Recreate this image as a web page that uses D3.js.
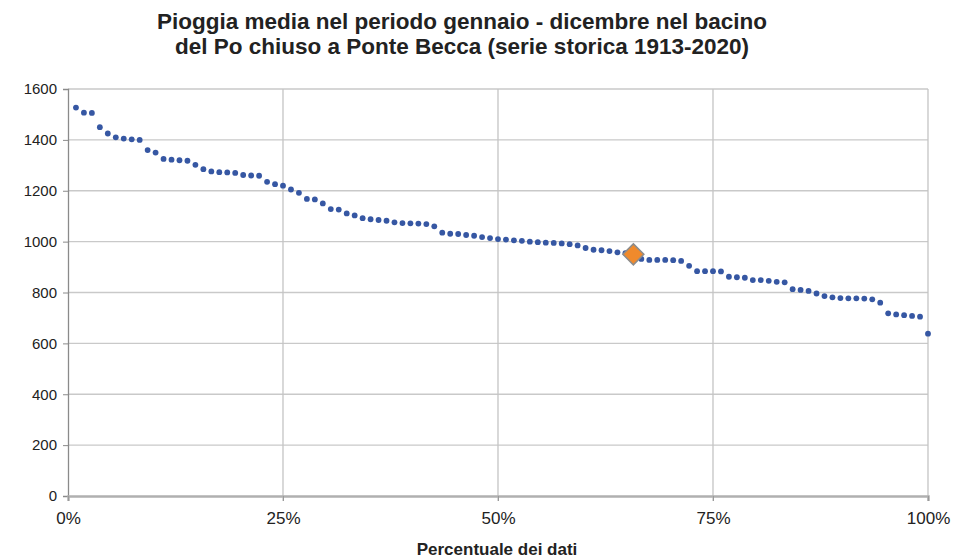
<!DOCTYPE html>
<html lang="it">
<head>
<meta charset="utf-8">
<title>Pioggia media Po a Ponte Becca</title>
<script src="https://d3js.org/d3.v7.min.js"></script>
<style>
  body { margin: 0; background: #fff; font-family: "Liberation Sans", Arial, sans-serif; }
  .tick text { font-family: "Liberation Sans", Arial, sans-serif; }
</style>
</head>
<body>
<div id="chart"></div>
<script>
// pioggia media annua (mm) ordinata in modo decrescente, 108 anni 1913-2020
var rainfall = [
  1527, 1507, 1506, 1450, 1425, 1410, 1405, 1402, 1400, 1360,
  1350, 1325, 1322, 1320, 1318, 1302, 1285, 1276, 1273, 1272,
  1270, 1262, 1260, 1259, 1235, 1226, 1220, 1205, 1192, 1168,
  1166, 1150, 1128, 1126, 1111, 1103, 1092, 1088, 1085, 1082,
  1076, 1073, 1072, 1071, 1069, 1060, 1035, 1031, 1030, 1026,
  1023, 1018, 1014, 1010, 1008, 1005, 1003, 1000, 998, 996,
  995, 993, 990, 985, 975, 968, 966, 963, 958, 955,
  950, 932, 928, 928, 928, 927, 924, 905, 884, 884,
  884, 883, 862, 860, 858, 849, 849, 846, 842, 840,
  813, 810, 806, 796, 786, 781, 778, 777, 777, 776,
  773, 760, 718, 714, 711, 708, 705, 638
];
// anno evidenziato (posizione nella serie ordinata)
var highlightRank = 71;
var highlightValue = 950;

var yTicks = [0, 200, 400, 600, 800, 1000, 1200, 1400, 1600];
var xTicks = [0, 0.25, 0.5, 0.75, 1];
var titleLines = [
  "Pioggia media nel periodo gennaio - dicembre nel bacino",
  "del Po chiuso a Ponte Becca (serie storica 1913-2020)"
];
var xTitle = "Percentuale dei dati";

var w = 953, h = 559;
var plotLeft = 68, plotRight = 928, plotTop = 89, plotBottom = 496;

var svg = d3.select("#chart").append("svg")
  .attr("width", w).attr("height", h);

var x = d3.scaleLinear().domain([0, 1]).range([plotLeft, plotRight]);
var y = d3.scaleLinear().domain([0, 1600]).range([plotBottom, plotTop]);

// griglia orizzontale
svg.append("g").selectAll("line")
  .data(yTicks.filter(function(d){ return d > 0; }))
  .enter().append("line")
  .attr("x1", plotLeft).attr("x2", plotRight)
  .attr("y1", function(d){ return y(d); })
  .attr("y2", function(d){ return y(d); })
  .attr("stroke", "#c9c9c9").attr("stroke-width", 1.3);

// griglia verticale
svg.append("g").selectAll("line")
  .data(xTicks.filter(function(d){ return d > 0; }))
  .enter().append("line")
  .attr("x1", function(d){ return x(d); })
  .attr("x2", function(d){ return x(d); })
  .attr("y1", plotTop).attr("y2", plotBottom + 5)
  .attr("stroke", "#c4c4c4").attr("stroke-width", 1.3);

// asse y
var yAxis = d3.axisLeft(y).tickValues(yTicks).tickSize(5).tickPadding(6)
  .tickFormat(d3.format("d"));
var gy = svg.append("g").attr("transform", "translate(" + plotLeft + ",0)").call(yAxis);
gy.select(".domain").attr("stroke", "#8a8a8a").attr("stroke-width", 1.3);
gy.selectAll(".tick line").attr("stroke", "#8a8a8a");
gy.selectAll(".tick text").attr("font-size", 15).attr("fill", "#222");

// asse x (linea dello zero)
var xAxis = d3.axisBottom(x).tickValues(xTicks).tickSize(5).tickPadding(11)
  .tickFormat(d3.format(".0%"));
var gx = svg.append("g").attr("transform", "translate(0," + plotBottom + ")").call(xAxis);
gx.select(".domain").attr("stroke", "#b0b0b0").attr("stroke-width", 2.5);
gx.selectAll(".tick line").attr("stroke", "#9a9a9a");
gx.selectAll(".tick text").attr("font-size", 17).attr("fill", "#222");

// punti della serie
var n = rainfall.length;
svg.append("g").selectAll("circle")
  .data(rainfall)
  .enter().append("circle")
  .attr("cx", function(d, i){ return x((i + 1) / n); })
  .attr("cy", function(d){ return y(d); })
  .attr("r", 2.9)
  .attr("fill", "#3657a3");

// anno evidenziato
svg.append("path")
  .attr("d", d3.symbol().type(d3.symbolDiamond2).size(280)())
  .attr("transform", "translate(" + x(highlightRank / n) + "," + y(highlightValue) + ")")
  .attr("fill", "#f08a2c")
  .attr("stroke", "#8c8c8c")
  .attr("stroke-width", 1.5);

// titolo
svg.append("g").selectAll("text")
  .data(titleLines)
  .enter().append("text")
  .attr("x", 462)
  .attr("y", function(d, i){ return 29 + i * 25; })
  .attr("text-anchor", "middle")
  .attr("font-size", 22.5)
  .attr("font-weight", "bold")
  .attr("fill", "#222")
  .text(function(d){ return d; });

svg.append("text")
  .attr("x", 497).attr("y", 555)
  .attr("text-anchor", "middle")
  .attr("font-size", 17)
  .attr("font-weight", "bold")
  .attr("fill", "#222")
  .text(xTitle);
</script>
</body>
</html>
